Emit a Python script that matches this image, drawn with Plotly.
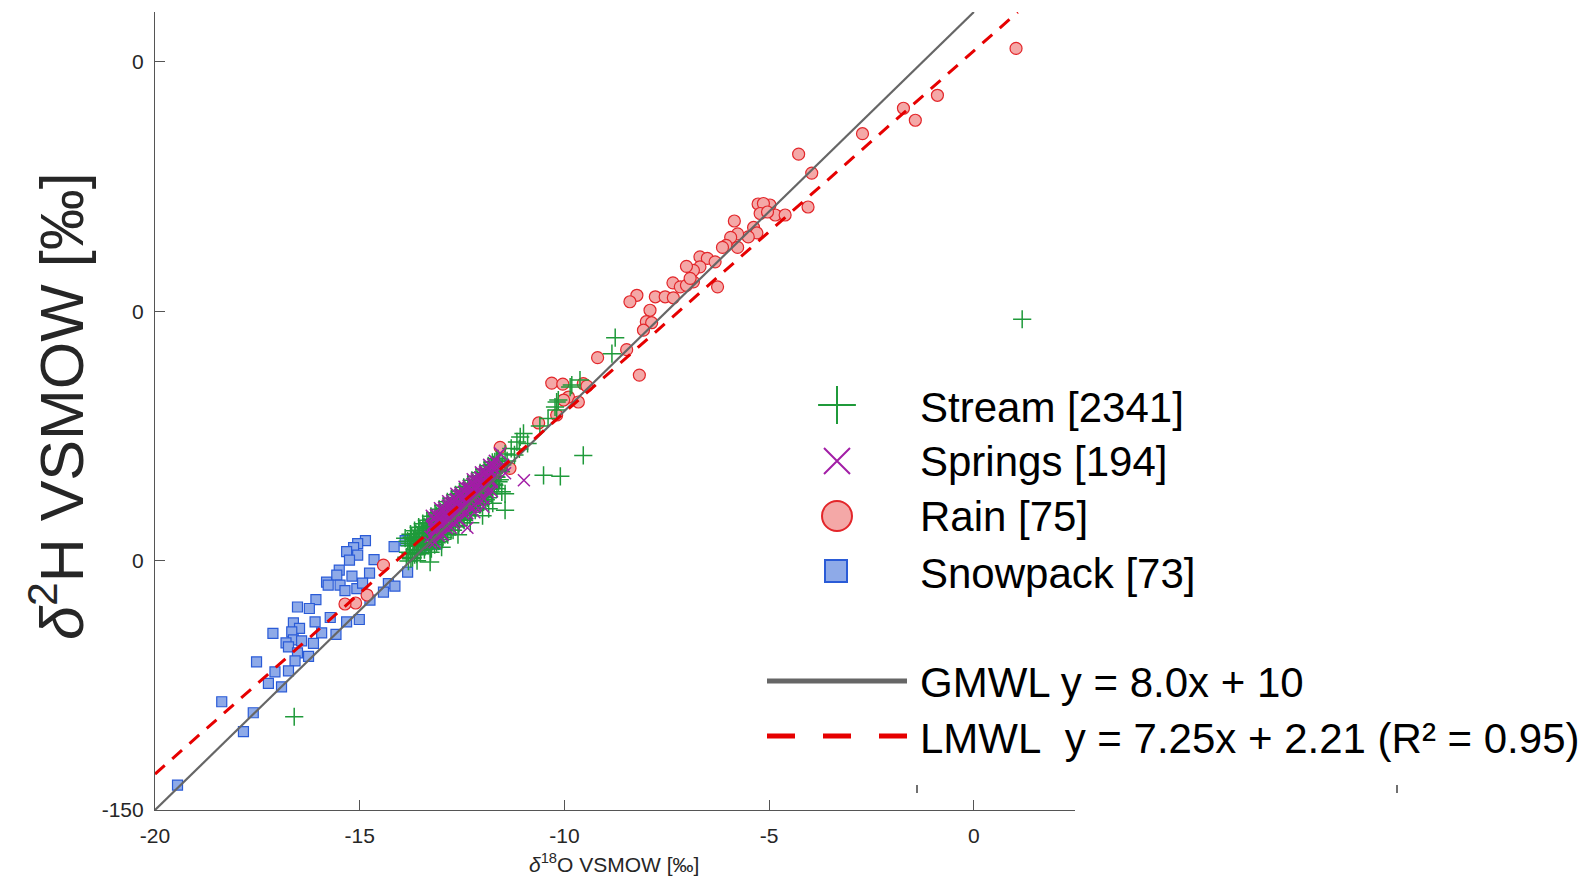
import plotly.graph_objects as go

# ---------------- data ----------------
stream_x = [-13.82, -13.78, -13.75, -13.70, -13.66, -13.62, -13.58, -13.55, -13.52, -13.48,
            -13.45, -13.42, -13.38, -13.35, -13.32, -13.28, -13.25, -13.22, -13.18, -13.15,
            -13.12, -13.08, -13.05, -13.02, -12.98, -12.95, -12.92, -12.88, -12.85, -12.82,
            -12.78, -12.75, -12.72, -12.68, -12.65, -12.62, -12.58, -12.55, -12.52, -12.48,
            -12.45, -12.42, -12.38, -12.35, -12.32, -12.28, -12.25, -12.22, -12.18, -12.15,
            -12.12, -12.08, -12.05, -12.02, -11.98, -11.95, -11.92, -11.88, -11.85, -11.82,
            -11.78, -11.75, -11.72, -11.68, -11.65, -11.62, -11.58, -11.55,
            -11.78, -11.70, -11.62, -11.52, -11.45, -11.40, -11.30, -11.22, -11.16, -11.08,
            -11.00, -11.10, -11.45, -11.53, -11.45, -11.75, -11.85, -12.00, -12.30, -12.60,
            -13.00, -13.28, -13.27, -13.60, -13.89,
            -9.54, -10.51, -10.10, -10.23, -10.19, -10.15, -9.82, -9.62, -9.86, -10.19,
            -8.76, -8.84, -16.60, 1.18, -10.40, -10.60, -10.90,
            -13.83, -13.78, -13.73, -13.68, -13.63, -13.58, -13.53, -13.48, -13.43, -13.38,
            -13.33, -13.28, -13.23, -13.18, -13.13, -13.08, -13.03, -12.98, -12.93, -12.88,
            -12.83, -12.78, -12.73, -12.68, -12.63, -12.58, -12.53, -12.48, -12.43, -12.38,
            -12.33, -12.28, -12.23, -12.18, -12.13, -12.08, -12.03, -11.98, -11.93, -11.88,
            -11.83, -11.78, -11.73, -11.68, -11.63, -11.58,
            -13.86, -13.81, -13.76, -13.71, -13.66, -13.61, -13.56, -13.51, -13.46, -13.41,
            -13.36, -13.31, -13.26, -13.21, -13.16, -13.11, -13.06, -13.01, -12.96, -12.91,
            -12.86, -12.81, -12.76, -12.71, -12.66, -12.61, -12.56, -12.51, -12.46, -12.41,
            -12.36, -12.31, -12.26, -12.21, -12.16, -12.11, -12.06, -12.01, -11.96, -11.91,
            -11.86, -11.81, -11.76, -11.71, -11.66, -11.61,
            -13.27, -13.17, -13.07, -12.97, -12.87, -12.77, -12.67, -12.57, -12.47, -12.37,
            -12.27, -12.17, -12.07, -11.97, -11.87, -11.77,
            -13.76, -13.66, -13.56, -13.46, -13.36, -13.26, -13.16, -13.06, -12.96, -12.86,
            -12.76, -12.66, -12.56, -12.46, -12.36, -12.26, -12.16, -12.06, -11.96, -11.86,
            -11.76, -11.66]
stream_y = [-98.3, -97.0, -99.6, -96.9, -98.8, -96.0, -97.9, -95.4, -98.6, -96.7,
            -94.6, -97.8, -95.3, -93.9, -96.9, -94.4, -97.6, -92.9, -95.6, -93.5,
            -96.4, -91.9, -94.5, -92.6, -95.7, -90.8, -93.4, -91.5, -94.8, -89.9,
            -92.6, -90.4, -93.9, -88.9, -91.7, -89.5, -92.9, -87.8, -90.6, -88.6,
            -91.9, -86.9, -89.7, -87.5, -90.8, -85.8, -88.6, -86.7, -89.9, -85.1,
            -87.6, -85.8, -88.7, -84.2, -86.6, -84.9, -87.8, -83.3, -85.7, -84.0,
            -86.5, -82.4, -84.7, -83.1, -85.6, -81.9, -83.8, -82.2,
            -81.0, -80.2, -79.6, -80.8, -78.6, -80.0, -77.5, -78.8, -76.2, -75.2,
            -74.5, -77.6, -86.6, -86.2, -89.9, -88.5, -89.6, -91.0, -92.4, -94.8,
            -97.3, -100.3, -98.3, -100.0, -95.5,
            -78.9, -82.9, -83.1, -69.2, -69.8, -67.8, -64.8, -63.8, -65.2, -68.2,
            -55.3, -58.5, -131.3, -51.6, -71.5, -73.0, -76.5,
            -96.1, -96.5, -95.3, -95.8, -94.6, -95.1, -93.9, -94.3, -93.2, -93.6,
            -92.4, -92.9, -91.7, -92.2, -91.0, -91.4, -90.3, -90.7, -89.5, -90.0,
            -88.8, -89.3, -88.1, -88.5, -87.4, -87.8, -86.6, -87.1, -85.9, -86.4,
            -85.2, -85.6, -84.5, -84.9, -83.7, -84.2, -83.0, -83.5, -82.3, -82.7,
            -81.6, -82.0, -80.8, -81.3, -80.1, -80.6,
            -99.3, -100.1, -98.6, -99.4, -97.8, -98.7, -97.1, -97.9, -96.4, -97.2,
            -95.7, -96.5, -94.9, -95.8, -94.2, -95.0, -93.5, -94.3, -92.8, -93.6,
            -92.0, -92.9, -91.3, -92.1, -90.6, -91.4, -89.9, -90.7, -89.1, -90.0,
            -88.4, -89.2, -87.7, -88.5, -87.0, -87.8, -86.2, -87.1, -85.5, -86.3,
            -84.8, -85.6, -84.1, -84.9, -83.3, -84.2,
            -97.5, -96.8, -96.1, -95.3, -94.6, -93.9, -93.2, -92.4, -91.7, -91.0,
            -90.3, -89.5, -88.8, -88.1, -87.4, -86.6,
            -94.7, -94.0, -93.3, -92.6, -91.9, -91.1, -90.4, -89.7, -89.0, -88.2,
            -87.5, -86.8, -86.1, -85.3, -84.6, -83.9, -83.2, -82.4, -81.7, -81.0,
            -80.3, -79.5]

springs_x = [-13.22, -13.18, -13.15, -13.10, -13.06, -13.03, -12.98, -12.95, -12.92, -12.88,
             -12.85, -12.82, -12.78, -12.75, -12.72, -12.68, -12.65, -12.62, -12.58, -12.55,
             -12.52, -12.48, -12.45, -12.42, -12.38, -12.35, -12.32, -12.28, -12.25, -12.22,
             -12.18, -12.15, -12.12, -12.08, -12.05, -12.02, -11.98, -11.95, -11.92, -11.88,
             -11.85, -11.80, -11.76, -11.72,
             -10.99, -11.57, -12.37, -11.98, -11.70, -11.50, -12.20, -12.70, -13.00, -11.45,
             -13.21, -13.16, -13.11, -13.06, -13.01, -12.96, -12.91, -12.86, -12.81, -12.76,
             -12.71, -12.66, -12.61, -12.56, -12.51, -12.46, -12.41, -12.36, -12.31, -12.26,
             -12.21, -12.16, -12.11, -12.06, -12.01, -11.96, -11.91, -11.86, -11.81, -11.76,
             -11.71,
             -13.27, -13.22, -13.17, -13.12, -13.07, -13.02, -12.97, -12.92, -12.87, -12.82,
             -12.77, -12.72, -12.67, -12.62, -12.57, -12.52, -12.47, -12.42, -12.37, -12.32,
             -12.27, -12.22, -12.17, -12.12, -12.07, -12.02, -11.97, -11.92, -11.87, -11.82,
             -11.77,
             -13.24, -13.14, -13.04, -12.94, -12.84, -12.74, -12.64, -12.54, -12.44, -12.34,
             -12.24, -12.14, -12.04, -11.94, -11.84, -11.74,
             -13.27, -13.17, -13.07, -12.97, -12.87, -12.77, -12.67, -12.57, -12.47, -12.37,
             -12.27, -12.17, -12.07, -11.97, -11.87, -11.77]
springs_y = [-93.0, -91.8, -93.9, -92.1, -90.9, -93.0, -91.2, -89.9, -92.3, -90.4,
             -89.0, -91.6, -89.6, -88.4, -90.8, -88.8, -87.6, -90.0, -88.1, -86.9,
             -89.3, -87.3, -86.2, -88.6, -86.6, -85.5, -87.9, -85.9, -84.7, -87.1,
             -85.2, -84.0, -86.3, -84.4, -83.3, -85.6, -83.7, -82.6, -84.8, -83.0,
             -81.9, -84.0, -82.3, -81.5,
             -83.9, -78.5, -93.4, -89.2, -80.0, -80.8, -90.3, -92.6, -94.6, -82.5,
             -92.7, -93.5, -91.0, -91.6, -92.4, -90.0, -90.5, -91.3, -88.9, -89.4,
             -90.2, -87.8, -88.3, -89.2, -86.7, -87.2, -88.1, -85.6, -86.1, -87.0,
             -84.5, -85.1, -85.9, -83.4, -84.0, -84.8, -82.3, -82.9, -83.7, -81.3,
             -81.8,
             -95.2, -93.3, -93.9, -94.1, -92.3, -92.8, -93.0, -91.2, -91.7, -91.9,
             -90.1, -90.6, -90.9, -89.0, -89.5, -89.8, -87.9, -88.4, -88.7, -86.8,
             -87.4, -87.6, -85.7, -86.3, -86.5, -84.6, -85.2, -85.4, -83.6, -84.1,
             -84.3,
             -91.0, -90.9, -89.5, -89.4, -88.1, -88.0, -86.6, -86.5, -85.2, -85.1,
             -83.7, -83.6, -82.3, -82.2, -80.8, -80.7,
             -96.4, -96.3, -95.0, -94.8, -93.5, -93.4, -92.1, -91.9, -90.6, -90.5,
             -89.2, -89.0, -87.7, -87.6, -86.3, -86.1]

rain_x = [1.03, -0.89, -1.72, -1.43, -2.72, -4.28, -3.96, -4.05, -4.85, -4.61,
          -4.98, -5.27, -5.14, -5.22, -5.04, -5.85, -5.38, -5.30, -5.51, -5.77,
          -5.94, -6.05, -6.14, -5.77, -6.69, -6.51, -6.32, -6.69, -6.85, -6.85,
          -6.26, -7.02, -7.35, -7.17, -7.02, -6.93, -8.23, -8.40, -7.78, -7.54,
          -7.34, -7.91, -8.00, -7.87, -8.07, -8.48, -9.19, -8.17, -10.31, -10.04,
          -9.54, -9.45, -9.90, -10.02, -9.66, -10.19, -10.63, -11.57, -11.33, -14.42,
          -14.82, -15.10, -15.36]
rain_y = [2.7, -6.7, -9.3, -11.7, -14.4, -18.5, -22.3, -29.1, -30.7, -30.7,
          -28.7, -28.5, -28.4, -30.4, -30.1, -31.9, -33.2, -34.3, -35.1, -34.5,
          -35.2, -36.8, -37.2, -37.2, -39.1, -39.4, -40.1, -41.1, -41.8, -44.1,
          -45.1, -41.0, -44.3, -45.1, -44.8, -43.4, -46.8, -48.1, -47.1, -47.1,
          -47.3, -49.8, -52.1, -52.3, -53.8, -57.7, -59.3, -62.8, -64.4, -64.6,
          -64.5, -65.0, -67.2, -67.8, -68.2, -70.8, -72.4, -77.3, -81.5, -100.9,
          -106.9, -108.5, -108.7]

snow_x = [-14.86, -15.05, -15.15, -15.32, -15.05, -15.25, -14.65, -14.16, -13.89, -13.83,
          -14.76, -15.50, -15.56, -15.19, -15.81, -15.77, -15.48, -15.07, -14.93, -15.36,
          -14.30, -14.14, -14.42, -14.75, -16.07, -16.52, -16.23, -15.72, -16.09, -15.32,
          -15.01, -16.62, -16.47, -16.66, -15.93, -15.58, -17.12, -16.62, -16.80, -16.42,
          -16.13, -16.74, -16.52, -16.25, -16.58, -17.52, -17.07, -16.74, -17.23, -16.91,
          -18.37, -17.60, -17.84, -19.45, -13.12, -13.50]
snow_y = [-96.0, -96.6, -97.4, -98.2, -98.9, -99.9, -99.8, -97.2, -96.0, -102.3,
          -102.5, -101.9, -102.9, -103.1, -104.3, -104.9, -104.9, -105.6, -104.5, -106.0,
          -104.6, -105.1, -106.3, -107.9, -107.8, -109.3, -109.6, -111.4, -112.3, -112.3,
          -111.8, -112.5, -113.6, -114.3, -114.5, -114.8, -114.6, -115.9, -116.5, -116.1,
          -116.6, -117.3, -118.5, -119.2, -120.1, -120.3, -122.3, -122.1, -124.6, -125.3,
          -128.3, -130.5, -134.3, -145.0, -96.7, -97.4]

gmwl_slope, gmwl_intercept = 8.0, 10.0
lmwl_slope, lmwl_intercept = 7.25, 2.21
gmwl_x = [-20.0, 0.0]
lmwl_x = [-20.0, 1.07]

x_tickvals = [-20, -15, -10, -5, 0]
x_ticktext = ["-20", "-15", "-10", "-5", "0"]
y_tickvals = [-150, -100, -50, 0]
y_ticktext = ["-150", "0", "0", "0"]

legend_labels = ["Stream [2341]", "Springs [194]", "Rain [75]", "Snowpack [73]",
                 "GMWL y = 8.0x + 10", "LMWL\u00a0\u00a0y = 7.25x + 2.21 (R\u00b2 = 0.95)"]

# ---------------- layout / styles ----------------
PAGE_OFF = 8                      # default body margin of the html page
W, H = 1571, 868
ML, MT = 147, 4
PW, PH = 920, 798
MR, MB = W - ML - PW, H - MT - PH
FONT = "Liberation Sans, Arial, Helvetica, sans-serif"

GREEN = "#1f9a3a"
PURPLE = "#a21ea6"
RAIN_FILL, RAIN_EDGE = "#f4a8a7", "#e3262a"
SNOW_FILL, SNOW_EDGE = "#8eaae8", "#2a5bd7"
GREY = "#666666"
RED = "#e60000"


def px_x(px):
    return (px - PAGE_OFF - ML) / PW


def px_y(py):
    return (PAGE_OFF + MT + PH - py) / PH


fig = go.Figure()

fig.add_trace(go.Scatter(x=snow_x, y=snow_y, mode="markers", showlegend=False,
                         marker=dict(symbol="square", size=10, color=SNOW_FILL,
                                     line=dict(color=SNOW_EDGE, width=1.2))))
fig.add_trace(go.Scatter(x=rain_x, y=rain_y, mode="markers", showlegend=False,
                         marker=dict(symbol="circle", size=12, color=RAIN_FILL,
                                     line=dict(color=RAIN_EDGE, width=1.2))))
fig.add_trace(go.Scatter(x=stream_x, y=stream_y, mode="markers", showlegend=False,
                         marker=dict(symbol="cross-thin-open", size=13, color=GREEN,
                                     line=dict(color=GREEN, width=1.5))))
fig.add_trace(go.Scatter(x=springs_x, y=springs_y, mode="markers", showlegend=False,
                         marker=dict(symbol="x-thin-open", size=12, color=PURPLE,
                                     line=dict(color=PURPLE, width=1.5))))

gmwl_y = [gmwl_slope * v + gmwl_intercept for v in gmwl_x]
lmwl_y = [lmwl_slope * v + lmwl_intercept for v in lmwl_x]
fig.add_trace(go.Scatter(x=gmwl_x, y=gmwl_y, mode="lines", showlegend=False,
                         line=dict(color=GREY, width=2.2)))
fig.add_trace(go.Scatter(x=lmwl_x, y=lmwl_y, mode="lines", showlegend=False,
                         line=dict(color=RED, width=3, dash="13px,10px")))

# ---------------- custom legend (overlay axes in page-pixel units) ----------------
leg_marker_px = [(837, 405), (837, 461), (837, 516), (836, 571)]
leg_marker_style = [
    dict(symbol="cross-thin-open", size=27, color=GREEN, line=dict(color=GREEN, width=2)),
    dict(symbol="x-thin-open", size=26, color=PURPLE, line=dict(color=PURPLE, width=2)),
    dict(symbol="circle", size=30, color=RAIN_FILL, line=dict(color=RAIN_EDGE, width=2)),
    dict(symbol="square", size=22, color=SNOW_FILL, line=dict(color=SNOW_EDGE, width=2)),
]
for (mx, my), st in zip(leg_marker_px, leg_marker_style):
    fig.add_trace(go.Scatter(x=[mx], y=[my], xaxis="x2", yaxis="y2", mode="markers",
                             showlegend=False, marker=st, hoverinfo="skip"))
fig.add_trace(go.Scatter(x=[767, 907], y=[681, 681], xaxis="x2", yaxis="y2", mode="lines",
                         showlegend=False, line=dict(color=GREY, width=5), hoverinfo="skip"))
fig.add_trace(go.Scatter(x=[767, 907], y=[736, 736], xaxis="x2", yaxis="y2", mode="lines",
                         showlegend=False, line=dict(color=RED, width=5, dash="28px,28px"),
                         hoverinfo="skip"))

leg_text_py = [407, 461.5, 517, 573, 682, 738]
annotations = []
for txt, ty in zip(legend_labels, leg_text_py):
    annotations.append(dict(text=txt, x=px_x(918), y=px_y(ty), xref="paper", yref="paper",
                            xanchor="left", yanchor="middle", showarrow=False,
                            font=dict(family=FONT, size=42, color="#000000")))

# axis titles
annotations.append(dict(text="<i>\u03b4</i><sup>2</sup>H VSMOW [\u2030]", x=px_x(57), y=px_y(406),
                        xref="paper", yref="paper", xanchor="center", yanchor="middle",
                        textangle=-90, showarrow=False,
                        font=dict(family=FONT, size=61, color="#262626")))
annotations.append(dict(text="<i>\u03b4</i><sup>18</sup>O VSMOW [\u2030]", x=px_x(614), y=px_y(863),
                        xref="paper", yref="paper", xanchor="center", yanchor="middle",
                        showarrow=False, font=dict(family=FONT, size=21, color="#262626")))

# small stray tick marks under the legend
shapes = []
for sx in (917, 1397):
    shapes.append(dict(type="line", xref="paper", yref="paper", x0=px_x(sx), x1=px_x(sx),
                       y0=px_y(785), y1=px_y(793), line=dict(color="#404040", width=1.5)))

axis_common = dict(showgrid=False, zeroline=False, showline=True, linecolor="#555555",
                   linewidth=1.2, ticks="inside", ticklen=10, tickwidth=1.2,
                   tickcolor="#555555", tickfont=dict(family=FONT, size=21, color="#262626"))

fig.update_layout(
    width=W, height=H,
    margin=dict(l=ML, r=MR, t=MT, b=MB, autoexpand=False),
    paper_bgcolor="white", plot_bgcolor="white",
    showlegend=False,
    xaxis=dict(range=[-20, 2.47], tickvals=x_tickvals, ticktext=x_ticktext,
               ticklabelstandoff=7, **axis_common),
    yaxis=dict(range=[-150, 10], tickvals=y_tickvals, ticktext=y_ticktext,
               ticklabelstandoff=6, **axis_common),
    xaxis2=dict(range=[PAGE_OFF + ML, PAGE_OFF + ML + PW], overlaying="x", visible=False,
                fixedrange=True),
    yaxis2=dict(range=[PAGE_OFF + MT + PH, PAGE_OFF + MT], overlaying="y", visible=False,
                fixedrange=True),
    annotations=annotations,
    shapes=shapes,
)

fig.write_html("out.html")
